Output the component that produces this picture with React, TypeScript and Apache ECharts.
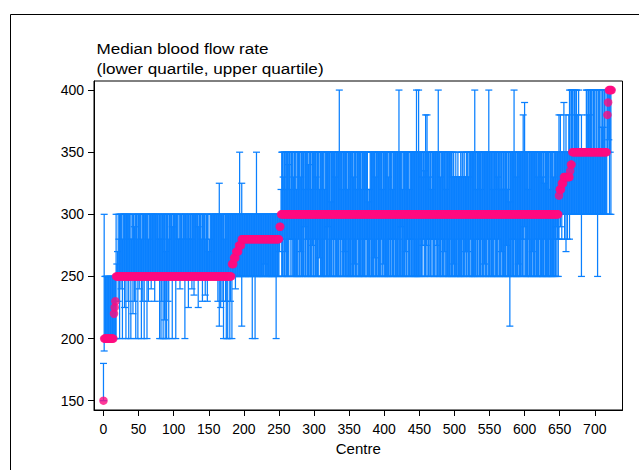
import React, { useEffect, useRef } from "react";
import * as echarts from "echarts";

// Median per centre, read as runs of [value, number of centres] (centres sorted by median)
const medianRuns: [number, number][] = [
  [150, 1], [200, 14], [220, 1], [225, 1], [230, 1], [250, 165],
  [260, 3], [265, 3], [270, 4], [275, 4], [280, 54], [290, 2],
  [300, 396], [315, 1], [320, 3], [325, 3], [330, 9], [335, 1], [340, 2],
  [350, 50], [380, 1], [390, 1], [400, 5],
];

const lowerQuartile: number[] = [
  // centres 0-17
  150, 190, 200, 200, 200, 200, 200, 200, 200, 200, 200, 200, 200, 200, 200, 200, 200, 200,
  // centres 18-182
  200, 250, 250, 230, 250, 200, 250, 240, 250, 200, 250, 250, 225, 250, 200, 250, 250, 230, 200, 250,
  250, 200, 250, 250, 220, 250, 230, 250, 200, 250, 250, 200, 250, 240, 250, 250, 200, 250, 230, 250,
  200, 250, 250, 250, 200, 250, 230, 250, 250, 250, 240, 250, 250, 250, 250, 230, 250, 250, 250, 250,
  250, 250, 200, 250, 200, 230, 250, 200, 250, 215, 200, 250, 200, 250, 230, 200, 250, 250, 250, 250,
  200, 250, 250, 250, 250, 200, 250, 250, 250, 250, 250, 240, 250, 250, 250, 250, 250, 250, 200, 250,
  250, 250, 250, 225, 250, 250, 250, 250, 240, 250, 250, 235, 250, 250, 250, 250, 250, 225, 250, 250,
  250, 250, 250, 230, 250, 250, 250, 235, 250, 250, 230, 250, 250, 250, 250, 250, 250, 250, 250, 250,
  250, 250, 250, 250, 250, 230, 250, 210, 250, 225, 250, 230, 250, 200, 250, 250, 230, 200, 250, 200, 250, 250, 200, 230, 250,
  // centres 183-252
  200, 250, 250, 250, 250, 240, 250, 250, 250, 250, 250, 250, 250, 250, 210, 250, 250, 250, 250, 250,
  250, 250, 250, 250, 250, 250, 250, 250, 250, 200, 250, 250, 250, 200, 250, 250, 250, 250, 250, 250,
  250, 250, 250, 250, 250, 250, 250, 260, 250, 250, 250, 250, 250, 250, 250, 250, 250, 250, 250, 250,
  250, 250, 250, 200, 250, 250, 250, 250, 270, 280,
  // centres 253-648
  280, 250, 250, 250, 280, 250, 270, 250, 250, 250, 250, 250, 280, 280, 250, 280, 250, 280, 250, 250,
  250, 250, 250, 250, 250, 280, 250, 250, 270, 250, 250, 250, 250, 290, 250, 250, 280, 250, 250, 250,
  280, 250, 250, 250, 250, 275, 250, 250, 280, 250, 250, 250, 250, 250, 280, 265, 250, 250, 250, 250,
  250, 250, 250, 280, 250, 250, 250, 290, 250, 250, 250, 250, 250, 280, 250, 250, 280, 250, 250, 250,
  250, 250, 250, 280, 250, 250, 280, 250, 250, 250, 250, 270, 250, 250, 280, 250, 250, 250, 250, 250,
  250, 280, 250, 250, 250, 260, 250, 250, 250, 280, 250, 250, 250, 250, 280, 250, 250, 250, 250, 250,
  280, 250, 280, 250, 250, 250, 250, 280, 250, 250, 250, 250, 250, 265, 250, 250, 250, 280, 250, 250,
  250, 250, 250, 280, 250, 250, 260, 250, 250, 250, 250, 250, 250, 250, 250, 280, 250, 280, 250, 250,
  250, 250, 280, 250, 250, 250, 250, 250, 280, 250, 250, 290, 250, 250, 250, 250, 250, 270, 250, 250,
  280, 250, 250, 250, 250, 280, 250, 250, 280, 250, 250, 250, 250, 250, 250, 250, 250, 250, 280, 250,
  250, 250, 275, 280, 250, 250, 250, 275, 250, 280, 250, 280, 250, 250, 280, 250, 280, 250, 250, 250,
  280, 250, 275, 250, 250, 280, 250, 250, 250, 280, 250, 250, 250, 270, 250, 280, 250, 250, 250, 250,
  250, 250, 280, 250, 250, 250, 260, 250, 250, 250, 250, 250, 280, 250, 250, 250, 250, 250, 250, 280,
  250, 250, 250, 270, 250, 250, 270, 250, 250, 250, 280, 250, 250, 250, 250, 250, 250, 250, 280, 250,
  250, 280, 250, 250, 250, 250, 280, 250, 250, 250, 260, 250, 250, 250, 280, 250, 250, 250, 250, 280,
  250, 250, 250, 250, 280, 250, 250, 250, 250, 250, 280, 250, 250, 250, 270, 250, 250, 250, 250, 250,
  250, 275, 250, 250, 250, 250, 210, 250, 250, 280, 250, 250, 250, 280, 250, 250, 250, 250, 260, 250,
  250, 250, 280, 250, 250, 280, 250, 290, 250, 250, 250, 250, 250, 280, 250, 250, 250, 250, 270, 250,
  250, 250, 250, 280, 250, 250, 250, 250, 280, 250, 250, 250, 250, 250, 250, 280, 250, 250, 250, 250,
  250, 250, 250, 280, 250, 250, 250, 250, 250, 280, 250, 250, 290, 250, 280, 250,
  // centres 649-717
  280, 300, 290, 300, 280, 300, 300, 300, 280, 300, 270, 300, 280, 300, 300, 280, 300, 300, 300, 300,
  300, 300, 300, 300, 300, 300, 300, 300, 300, 300, 300, 300, 250, 300, 300, 300, 300, 300, 300, 300,
  300, 300, 300, 300, 300, 300, 300, 300, 300, 300, 300, 300, 300, 300, 300, 250, 300, 300, 300, 300,
  300, 300, 300, 300, 300, 300, 300, 300, 300,
  // centres 718-724
  350, 350, 360, 300, 350, 300, 400,
];

const upperQuartile: number[] = [
  // centres 0-17
  180, 300, 250, 250, 250, 250, 250, 250, 250, 250, 250, 250, 250, 250, 250, 250, 250, 250,
  // centres 18-182
  300, 260, 270, 300, 280, 300, 300, 300, 300, 280, 300, 300, 300, 300, 300, 300, 300, 300, 300, 300,
  280, 300, 280, 300, 300, 300, 290, 300, 300, 300, 280, 300, 300, 300, 300, 300, 280, 300, 300, 300,
  300, 300, 300, 300, 300, 300, 280, 300, 300, 300, 300, 300, 300, 300, 300, 300, 300, 300, 300, 300,
  300, 280, 300, 300, 280, 300, 300, 300, 300, 300, 300, 270, 300, 300, 300, 280, 300, 300, 300, 300,
  290, 300, 300, 300, 300, 300, 300, 300, 300, 280, 300, 280, 300, 300, 300, 280, 300, 300, 300, 300,
  300, 280, 300, 300, 280, 300, 300, 300, 280, 300, 300, 300, 300, 300, 300, 300, 300, 290, 300, 300,
  300, 300, 280, 300, 300, 300, 300, 280, 300, 300, 300, 300, 270, 280, 300, 300, 300, 300, 300, 300,
  300, 300, 300, 300, 300, 300, 300, 325, 300, 300, 300, 300, 300, 300, 280, 300, 300, 300, 300, 300, 300, 300, 300, 300, 300,
  // centres 183-252
  300, 300, 300, 300, 300, 300, 300, 300, 300, 300, 300, 350, 300, 300, 325, 300, 300, 300, 300, 300,
  300, 300, 300, 300, 300, 300, 300, 300, 300, 300, 300, 300, 300, 300, 300, 350, 300, 300, 300, 300,
  300, 300, 300, 300, 300, 300, 300, 300, 300, 300, 300, 300, 300, 300, 300, 300, 300, 300, 300, 300,
  300, 300, 300, 300, 300, 300, 300, 300, 300, 300,
  // centres 253-648
  320, 350, 350, 330, 350, 350, 350, 320, 350, 350, 340, 350, 350, 320, 350, 350, 350, 350, 330, 350,
  350, 350, 320, 350, 350, 350, 350, 350, 330, 350, 350, 350, 350, 350, 320, 350, 350, 350, 350, 340,
  350, 350, 350, 320, 350, 350, 350, 350, 350, 350, 330, 350, 350, 350, 350, 320, 350, 350, 350, 350,
  350, 350, 320, 350, 350, 350, 350, 350, 350, 350, 350, 310, 350, 350, 350, 350, 350, 330, 350, 350,
  350, 350, 350, 400, 350, 350, 350, 320, 350, 350, 350, 350, 350, 350, 350, 320, 350, 350, 350, 350,
  350, 350, 350, 330, 350, 350, 350, 350, 320, 350, 350, 350, 350, 350, 350, 320, 350, 350, 350, 350,
  350, 350, 350, 350, 320, 310, 320, 350, 350, 350, 350, 350, 350, 350, 350, 330, 350, 350, 350, 350,
  350, 350, 350, 350, 350, 320, 350, 350, 350, 350, 350, 350, 350, 330, 350, 350, 350, 350, 350, 320,
  350, 350, 350, 350, 350, 350, 350, 350, 400, 350, 350, 350, 350, 320, 350, 350, 350, 350, 350, 350,
  350, 350, 350, 320, 350, 350, 350, 350, 350, 350, 350, 350, 350, 400, 350, 350, 400, 350, 350, 350,
  350, 330, 350, 350, 350, 335, 380, 350, 380, 350, 350, 330, 350, 350, 320, 350, 350, 350, 350, 350,
  350, 350, 350, 350, 400, 350, 350, 330, 350, 350, 350, 350, 350, 350, 350, 320, 350, 350, 350, 350,
  350, 350, 350, 350, 330, 350, 350, 330, 330, 350, 330, 330, 350, 330, 330, 330, 350, 330, 350, 350,
  330, 350, 330, 330, 350, 350, 350, 330, 350, 350, 350, 350, 350, 350, 350, 350, 400, 350, 350, 320,
  350, 350, 350, 350, 350, 320, 350, 350, 350, 350, 350, 350, 350, 350, 350, 350, 400, 350, 350, 350,
  350, 350, 320, 350, 350, 350, 350, 350, 350, 330, 350, 350, 320, 350, 350, 320, 350, 350, 350, 320,
  350, 350, 350, 320, 350, 350, 310, 350, 350, 350, 350, 350, 400, 350, 350, 350, 330, 350, 350, 350,
  350, 350, 350, 350, 350, 380, 350, 390, 350, 350, 350, 350, 320, 350, 350, 350, 350, 350, 350, 350,
  350, 350, 350, 350, 350, 350, 330, 350, 350, 350, 350, 350, 330, 350, 350, 325, 350, 350, 350, 350,
  350, 350, 320, 350, 350, 350, 350, 350, 330, 350, 350, 350, 350, 350, 350, 350,
  // centres 649-717
  380, 350, 380, 350, 350, 350, 350, 390, 350, 350, 380, 350, 350, 350, 380, 400, 350, 400, 400, 400,
  400, 350, 400, 380, 400, 400, 380, 350, 400, 350, 350, 350, 380, 350, 350, 350, 350, 350, 350, 400,
  400, 380, 400, 400, 380, 400, 400, 400, 350, 400, 400, 400, 350, 400, 400, 350, 400, 400, 400, 350,
  400, 370, 400, 370, 400, 400, 350, 400, 350,
  // centres 718-724
  400, 400, 400, 400, 400, 400, 400,
];

const xTicks = [0, 50, 100, 150, 200, 250, 300, 350, 400, 450, 500, 550, 600, 650, 700];
const yTicks = [150, 200, 250, 300, 350, 400];
const titleLines = ["Median blood flow rate", "(lower quartile, upper quartile)"];
const xTitle = "Centre";

const BAR_COLOR = "#0a80ff";
const DOT_COLOR = "#ff0a80";
const FONT = "'Liberation Sans', Arial, Helvetica, sans-serif";

export default function App() {
  const ref = useRef<HTMLDivElement>(null);

  useEffect(() => {
    if (!ref.current) return;
    const chart = echarts.init(ref.current, undefined, { renderer: "svg" });

    const medians: number[] = [];
    medianRuns.forEach(([v, n]) => {
      for (let k = 0; k < n; k++) medians.push(v);
    });
    const n = Math.min(medians.length, lowerQuartile.length, upperQuartile.length);
    const barData: number[][] = [];
    const dotData: number[][] = [];
    for (let i = 0; i < n; i++) {
      barData.push([i, lowerQuartile[i], upperQuartile[i]]);
      dotData.push([i, medians[i]]);
    }

    const capHalf = 3.5;

    chart.setOption({
      animation: false,
      backgroundColor: "#fff",
      grid: {
        left: 94,
        top: 81,
        right: 16.5,
        bottom: 60,
        show: true,
        borderColor: "#000",
        borderWidth: 1,
        backgroundColor: "transparent",
      },
      graphic: [
        {
          type: "rect",
          shape: { x: 10.5, y: 14.5, width: 700, height: 600 },
          style: { fill: "none", stroke: "#000", lineWidth: 1 },
          silent: true,
        },
        {
          type: "text",
          x: 96.5,
          y: 40.5,
          scaleX: 1.14,
          style: { text: titleLines[0], font: `15px ${FONT}`, fill: "#000", textVerticalAlign: "top" },
        },
        {
          type: "text",
          x: 96.5,
          y: 61,
          scaleX: 1.14,
          style: { text: titleLines[1], font: `15px ${FONT}`, fill: "#000", textVerticalAlign: "top" },
        },
      ],
      xAxis: {
        type: "value",
        min: -13.5,
        max: 739.5,
        name: xTitle,
        nameLocation: "middle",
        nameGap: 27,
        nameTextStyle: { color: "#000", fontSize: 15, fontFamily: FONT },
        axisLine: { show: true, onZero: false, lineStyle: { color: "#000", width: 1 } },
        axisTick: { show: true, length: 6, customValues: xTicks, lineStyle: { color: "#000", width: 1 } },
        axisLabel: { customValues: xTicks, color: "#000", fontSize: 14, fontFamily: FONT, margin: 12 },
        splitLine: { show: false },
      },
      yAxis: {
        type: "value",
        min: 142.5,
        max: 407.3,
        axisLine: { show: true, onZero: false, lineStyle: { color: "#000", width: 1 } },
        axisTick: { show: true, length: 6, customValues: yTicks, lineStyle: { color: "#000", width: 1 } },
        axisLabel: { customValues: yTicks, color: "#000", fontSize: 14, fontFamily: FONT, margin: 10 },
        splitLine: { show: false },
      },
      series: [
        {
          type: "custom",
          data: barData,
          encode: { x: 0, y: [1, 2] },
          z: 2,
          renderItem: (params: any, api: any) => {
            const x = api.value(0);
            const lo = api.coord([x, api.value(1)]);
            const hi = api.coord([x, api.value(2)]);
            const style = { stroke: BAR_COLOR, lineWidth: 1.25, fill: "none" };
            return {
              type: "group",
              children: [
                { type: "line", shape: { x1: lo[0], y1: lo[1], x2: hi[0], y2: hi[1] }, style },
                { type: "line", shape: { x1: lo[0] - capHalf, y1: lo[1], x2: lo[0] + capHalf, y2: lo[1] }, style },
                { type: "line", shape: { x1: hi[0] - capHalf, y1: hi[1], x2: hi[0] + capHalf, y2: hi[1] }, style },
              ],
            };
          },
        },
        {
          type: "scatter",
          data: dotData,
          symbol: "circle",
          symbolSize: 8.5,
          z: 3,
          itemStyle: { color: DOT_COLOR, borderWidth: 0 },
        },
      ],
    });

    return () => chart.dispose();
  }, []);

  return (
    <div
      ref={ref}
      style={{ position: "fixed", left: 0, top: 0, width: 639, height: 470, background: "#fff" }}
    />
  );
}
